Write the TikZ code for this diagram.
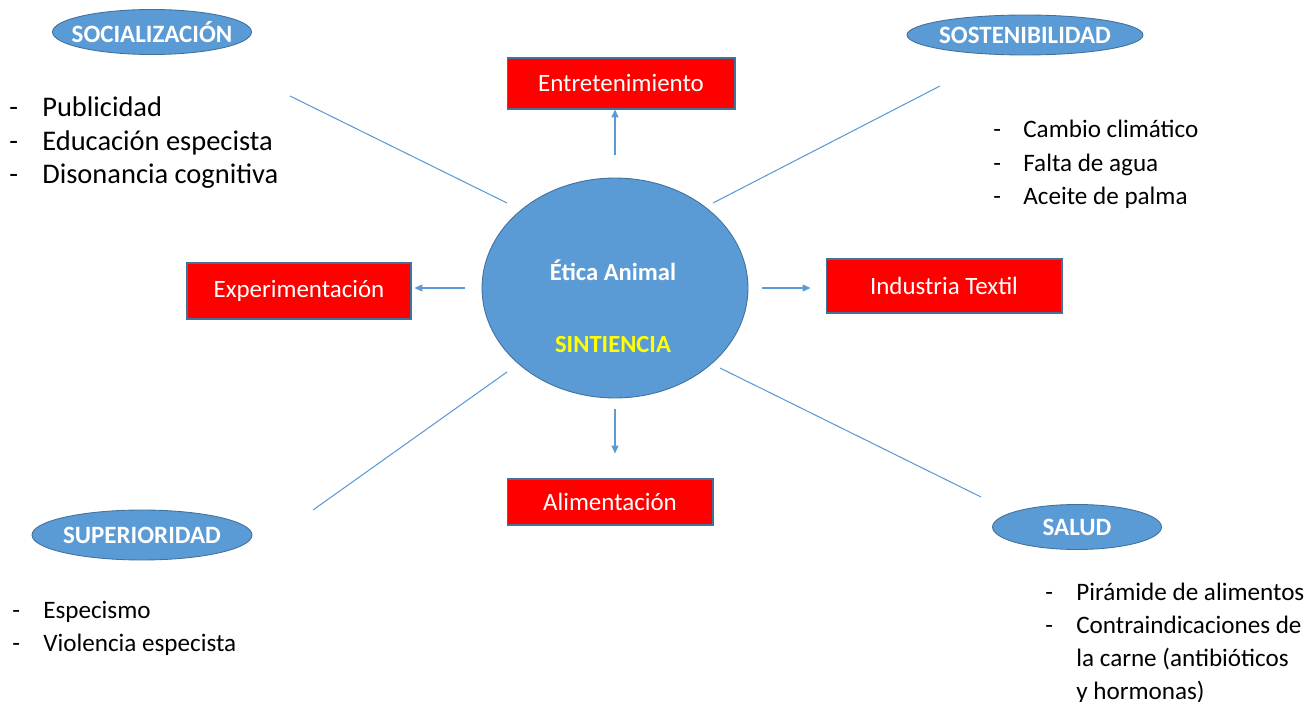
\documentclass[tikz,border=0pt]{standalone}
\usepackage{fontspec}
\setmainfont{Carlito}
\usetikzlibrary{shapes, arrows.meta, positioning}
\definecolor{officeblue}{HTML}{5B9BD5}
\definecolor{edgeblue}{HTML}{41719C}
\definecolor{boxred}{HTML}{FF0000}
\definecolor{sunyellow}{HTML}{FFFF00}
\newcommand{\topictext}[1]{\makebox[0pt]{#1}}

\begin{document}
\begin{tikzpicture}[x=0.02cm, y=-0.02cm]
\tikzstyle{box} = [rectangle, draw=edgeblue, fill=boxred, text=white, line width=0.6pt, inner sep=0pt, font=\fontsize{14.2}{17}\selectfont]
\tikzstyle{topic} = [ellipse, draw=edgeblue, fill=officeblue, text=white, line width=0.5pt, inner sep=0pt, font=\fontsize{14.2}{17}\selectfont\bfseries]
\tikzstyle{arrow} = [draw=officeblue, line width=0.6pt, -{Triangle[length=4.5pt, width=4pt]}]
\tikzstyle{spoke} = [draw=officeblue, line width=0.6pt]
\tikzstyle{list} = [anchor=base west, inner sep=0pt, font=\fontsize{14.3}{18.8}\selectfont]

\useasboundingbox (0,0) rectangle (1308,702);

\node[topic, minimum width=5.32cm, minimum height=4.4cm] (etica) at (615,288) {};
\node[text=white, font=\fontsize{14}{17}\selectfont\bfseries] (eticaTitle) at (613,270) {Ética Animal};
\node[text=sunyellow, font=\fontsize{14}{17}\selectfont\bfseries] (sintiencia) at (613,345) {SINTIENCIA};

\node[box, minimum width=4.56cm, minimum height=1.02cm] (entret) at (621,83.5) {Entretenimiento};
\node[box, minimum width=4.48cm, minimum height=1.12cm] (experim) at (299,291) {Experimentación};
\node[box, minimum width=4.72cm, minimum height=1.08cm] (textil) at (944,286) {Industria Textil\hspace{0.2cm}};
\node[box, minimum width=4.12cm, minimum height=0.92cm] (aliment) at (610,502) {Alimentación\hspace{0.2cm}};

\node[topic, minimum width=3.98cm, minimum height=0.9cm] (social) at (152,32) {\topictext{SOCIALIZACIÓN}};
\node[topic, minimum width=4.72cm, minimum height=0.8cm] (sosten) at (1025,35) {\topictext{SOSTENIBILIDAD}};
\node[topic, minimum width=4.4cm, minimum height=1.0cm] (superior) at (142,535) {\topictext{SUPERIORIDAD}};
\node[topic, minimum width=3.38cm, minimum height=0.9cm] (salud) at (1077,527) {\topictext{SALUD}};

\node[list, font=\fontsize{16.2}{18.8}\selectfont] (socialList) at (9,117) {\begin{tabular}[t]{@{}p{0.66cm}@{}l@{}}
- & Publicidad\\
- & Educación especista\\
- & Disonancia cognitiva
\end{tabular}};
\node[list] (sostenList) at (993,138) {\begin{tabular}[t]{@{}p{0.6cm}@{}l@{}}
- & Cambio climático\\
- & Falta de agua\\
- & Aceite de palma
\end{tabular}};
\node[list] (superiorList) at (12,618) {\begin{tabular}[t]{@{}p{0.62cm}@{}l@{}}
- & Especismo\\
- & Violencia especista
\end{tabular}};
\node[list] (saludList) at (1045,600) {\begin{tabular}[t]{@{}p{0.62cm}@{}l@{}}
- & Pirámide de alimentos\\
- & Contraindicaciones de\\
  & la carne (antibióticos\\
  & y hormonas)
\end{tabular}};

\coordinate (socialIn) at (507,203);
\coordinate (socialOut) at (290,96);
\coordinate (sostenIn) at (713,203);
\coordinate (sostenOut) at (940,86);
\coordinate (superiorIn) at (507,372);
\coordinate (superiorOut) at (313,510);
\coordinate (saludIn) at (720,368);
\coordinate (saludOut) at (981,497);

\draw [spoke] (socialIn) -- (socialOut);
\draw [spoke] (sostenIn) -- (sostenOut);
\draw [spoke] (superiorIn) -- (superiorOut);
\draw [spoke] (saludIn) -- (saludOut);

\draw [arrow, shorten <=0.46cm] (etica.north) -- (etica.north |- entret.south);
\draw [arrow, shorten <=0.22cm, shorten >=0.5cm] (etica.south) -- (etica.south |- aliment.north);
\draw [arrow, shorten <=0.28cm, shorten >=0.3cm] (etica.east) -- (etica.east -| textil.west);
\draw [arrow, shorten <=0.34cm, shorten >=0.06cm] (etica.west) -- (etica.west -| experim.east);
\end{tikzpicture}
\end{document}
